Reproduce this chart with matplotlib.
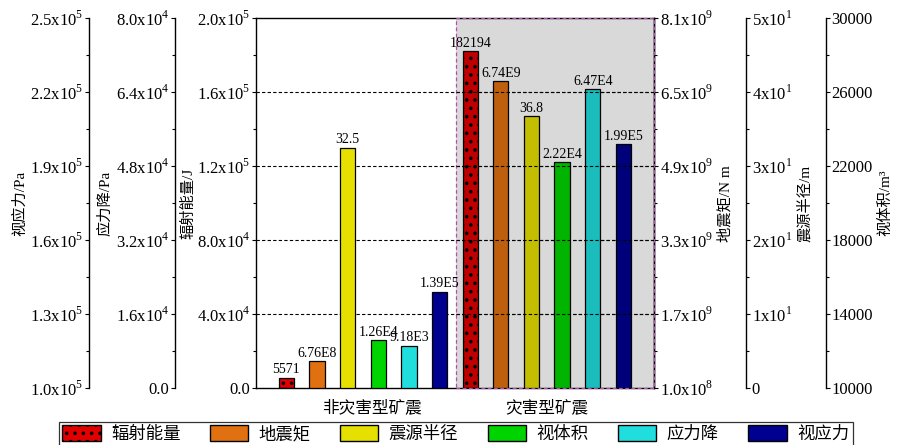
import numpy as np
import matplotlib
matplotlib.use("Agg")
import matplotlib.pyplot as plt
import matplotlib.transforms as mtransforms
from matplotlib.patches import Patch, Rectangle
from matplotlib.ticker import FixedLocator, FixedFormatter, MultipleLocator

plt.rcParams['font.family'] = ['Liberation Serif', 'Noto Sans CJK SC']
plt.rcParams['mathtext.fontset'] = 'custom'
plt.rcParams['mathtext.rm'] = 'Liberation Serif'
plt.rcParams['hatch.linewidth'] = 1.4

# ---------------------------------------------------------------------------
# Data
# ---------------------------------------------------------------------------
groups = ["非灾害型矿震", "灾害型矿震"]
params = ["辐射能量", "地震矩", "震源半径", "视体积", "应力降", "视应力"]
non_disaster = [5571, 6.76e8, 32.5, 1.26e4, 9.18e3, 1.39e5]
disaster = [182194, 6.74e9, 36.8, 2.22e4, 6.47e4, 1.99e5]
non_labels = ["5571", "6.76E8", "32.5", "1.26E4", "9.18E3", "1.39E5"]
dis_labels = ["182194", "6.74E9", "36.8", "2.22E4", "6.47E4", "1.99E5"]

ylabels = ["辐射能量/J", "地震矩/N m", "震源半径/m", "视体积/m³", "应力降/Pa", "视应力/Pa"]
ylims = [(0, 2.0e5), (1.0e8, 8.1e9), (0, 50), (10000, 30000), (0, 8.0e4), (1.0e5, 2.5e5)]
yticks = [
    [0, 4e4, 8e4, 1.2e5, 1.6e5, 2.0e5],
    [1.0e8, 1.7e9, 3.3e9, 4.9e9, 6.5e9, 8.1e9],
    [0, 10, 20, 30, 40, 50],
    [10000, 14000, 18000, 22000, 26000, 30000],
    [0, 1.6e4, 3.2e4, 4.8e4, 6.4e4, 8.0e4],
    [1.0e5, 1.3e5, 1.6e5, 1.9e5, 2.2e5, 2.5e5],
]
yticklabels = [
    ["0.0", "4.0x10$^4$", "8.0x10$^4$", "1.2x10$^5$", "1.6x10$^5$", "2.0x10$^5$"],
    ["1.0x10$^8$", "1.7x10$^9$", "3.3x10$^9$", "4.9x10$^9$", "6.5x10$^9$", "8.1x10$^9$"],
    ["0", "1x10$^1$", "2x10$^1$", "3x10$^1$", "4x10$^1$", "5x10$^1$"],
    ["10000", "14000", "18000", "22000", "26000", "30000"],
    ["0.0", "1.6x10$^4$", "3.2x10$^4$", "4.8x10$^4$", "6.4x10$^4$", "8.0x10$^4$"],
    ["1.0x10$^5$", "1.3x10$^5$", "1.6x10$^5$", "1.9x10$^5$", "2.2x10$^5$", "2.5x10$^5$"],
]

# ---------------------------------------------------------------------------
# Style
# ---------------------------------------------------------------------------
colors = ["#e00000", "#e07010", "#e6e000", "#00d400", "#20dede", "#000090"]
hatches = ["..", None, None, None, None, None]
sides = ["left", "right", "right", "right", "left", "left"]
spine_pos = [0.0, 1.0, 1.231, 1.432, -0.2026, -0.4185]
label_x = [-0.170, 1.178, 1.378, 1.582, -0.378, -0.592]

x_non = np.arange(1, 7)
x_dis = np.arange(7, 13)
divider = 6.55

fig = plt.figure(figsize=(8.97, 4.45), dpi=100)
ax = fig.add_axes([0.2851, 0.1281, 0.4440, 0.8308])
ax.set_xlim(0, 13)
ax.set_xticks([])

axes_list = [ax] + [ax.twinx() for _ in range(5)]

for i, a in enumerate(axes_list):
    lo, hi = ylims[i]
    a.set_ylim(lo, hi)
    a.bar([x_non[i], x_dis[i]], [non_disaster[i] - lo, disaster[i] - lo], bottom=lo,
          width=0.5, color=colors[i], edgecolor="black", linewidth=0.9,
          hatch=hatches[i], zorder=2)
    for xx, v, s in [(x_non[i], non_disaster[i], non_labels[i]),
                     (x_dis[i], disaster[i], dis_labels[i])]:
        a.annotate(s, (xx, v), xytext=(0, 1), textcoords="offset points",
                   ha="center", va="bottom", fontsize=10, zorder=6)

    a.yaxis.set_major_locator(FixedLocator(yticks[i]))
    a.yaxis.set_major_formatter(FixedFormatter(yticklabels[i]))
    step = yticks[i][1] - yticks[i][0]
    a.yaxis.set_minor_locator(MultipleLocator(step / 2, offset=lo))
    a.tick_params(axis="y", which="major", direction="out", length=3, width=0.8,
                  labelsize=12, pad=1)
    a.tick_params(axis="y", which="minor", direction="out", length=2, width=0.8)

    if i > 0:
        for sp in a.spines.values():
            sp.set_visible(False)
        side = sides[i]
        if side == "left":
            a.yaxis.tick_left()
        else:
            a.yaxis.tick_right()
        a.spines[side].set_visible(True)
        a.spines[side].set_position(("axes", spine_pos[i]))
        a.spines[side].set_linewidth(1.0)
    else:
        for sp in a.spines.values():
            sp.set_linewidth(1.0)
        a.yaxis.tick_left()

    a.text(label_x[i], 0.5, ylabels[i], transform=a.transAxes, rotation=90,
           ha="center", va="center", fontsize=11)

# grid lines behind the bars
trans_main = mtransforms.blended_transform_factory(ax.transData, ax.transAxes)
for f in [0.2, 0.4, 0.6, 0.8]:
    ax.plot([0, 13], [f, f], transform=trans_main, color="black",
            linestyle=(0, (3, 2)), linewidth=0.8, zorder=0.5)

# shaded region for disaster events, drawn over bars
top = axes_list[-1]
trans_top = mtransforms.blended_transform_factory(top.transData, top.transAxes)
top.add_patch(Rectangle((divider, 0), 13 - divider, 1, transform=trans_top,
                        facecolor="black", alpha=0.15, edgecolor="none", zorder=5))
top.add_patch(Rectangle((divider, 0), 13 - divider, 1, transform=trans_top,
                        facecolor="none", edgecolor="#b050b0", linestyle=(0, (3, 2)),
                        linewidth=0.9, zorder=5.5, clip_on=False))
for f in [0.2, 0.4, 0.6, 0.8]:
    top.plot([divider, 13], [f, f], transform=trans_top, color="black",
             linestyle=(0, (3, 2)), linewidth=0.8, zorder=5.6)

# group labels
ax.text(3.8, -0.054, groups[0], transform=trans_main, ha="center", va="center", fontsize=12)
ax.text(9.5, -0.054, groups[1], transform=trans_main, ha="center", va="center", fontsize=12)

# legend
handles = [Patch(facecolor=c, edgecolor="black", hatch=h, label=p)
           for c, h, p in zip(colors, hatches, params)]
leg = fig.legend(handles=handles, loc="upper center", bbox_to_anchor=(0.508, 0.0517),
                 ncol=6, fontsize=12.5, frameon=True, fancybox=False, edgecolor="black",
                 handlelength=2.2, handleheight=1.0, handletextpad=0.6,
                 columnspacing=1.7, borderpad=0.2, borderaxespad=0)
leg.get_frame().set_linewidth(0.9)

fig.savefig("out.png", dpi=100)
